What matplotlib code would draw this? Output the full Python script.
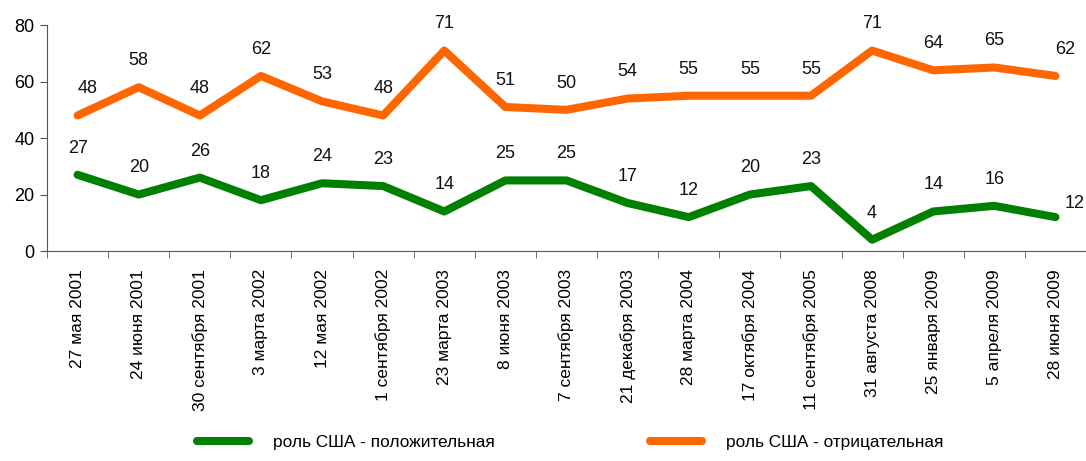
import matplotlib
matplotlib.use("Agg")
import matplotlib.pyplot as plt
import numpy as np

plt.rcParams['font.family'] = ['Liberation Sans', 'DejaVu Sans']

dates = ['27 мая 2001', '24 июня 2001', '30 сентября 2001', '3 марта 2002',
         '12 мая 2002', '1 сентября 2002', '23 марта 2003', '8 июня 2003',
         '7 сентября 2003', '21 декабря 2003', '28 марта 2004', '17 октября 2004',
         '11 сентября 2005', '31 августа 2008', '25 января 2009', '5 апреля 2009',
         '28 июня 2009']
positive = [27, 20, 26, 18, 24, 23, 14, 25, 25, 17, 12, 20, 23, 4, 14, 16, 12]
negative = [48, 58, 48, 62, 53, 48, 71, 51, 50, 54, 55, 55, 55, 71, 64, 65, 62]

green = '#008000'
orange = '#FF6600'

fig = plt.figure(figsize=(10.86, 4.61), dpi=100)
ax = fig.add_axes([0.0433, 0.4555, 0.9567, 0.490])

x = np.arange(len(dates))
ax.plot(x, positive, color=green, lw=5.8, solid_capstyle='round',
        solid_joinstyle='round', label='роль США - положительная')
ax.plot(x, negative, color=orange, lw=5.8, solid_capstyle='round',
        solid_joinstyle='round', label='роль США - отрицательная')

# подписи значений над точками (первую и последние чуть правее, как в оригинале)
last = len(dates) - 1
for xi, v in zip(x, positive):
    dx = 14 if xi == last else 0
    dy = 4 if xi == last else 13
    ax.annotate(str(v), (xi, v), xytext=(dx, dy), textcoords='offset points',
                ha='center', va='bottom', fontsize=13, color='#111111')
for xi, v in zip(x, negative):
    dx = 7 if xi in (0, last) else 0
    ax.annotate(str(v), (xi, v), xytext=(dx, 13), textcoords='offset points',
                ha='center', va='bottom', fontsize=13, color='#111111')

ax.set_xlim(-0.5, len(dates) - 0.5)
ax.set_ylim(0, 80)
ax.set_yticks([0, 20, 40, 60, 80])
ax.set_xticks(x)
ax.set_xticklabels(dates, rotation=90, fontsize=12.5)
ax.set_xticks(np.arange(len(dates) + 1) - 0.5, minor=True)
ax.tick_params(axis='x', which='major', length=0, pad=13)
ax.tick_params(axis='x', which='minor', length=5, color='#555555')
ax.tick_params(axis='y', length=5, color='#555555', labelsize=13, pad=4)

for s in ['top', 'right']:
    ax.spines[s].set_visible(False)
for s in ['left', 'bottom']:
    ax.spines[s].set_color('#555555')

fig.legend(loc='lower center', bbox_to_anchor=(0.525, -0.01), ncol=2, frameon=False,
           fontsize=12.4, handlelength=3.0, columnspacing=9.0, handletextpad=1.4)

fig.savefig('out.png', dpi=100)
